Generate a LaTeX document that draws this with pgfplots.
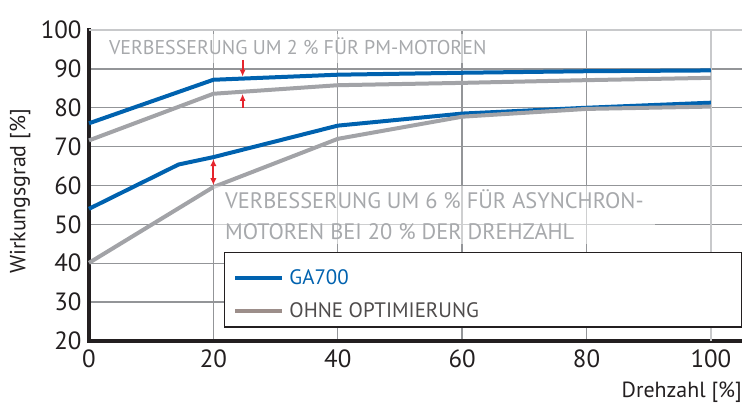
\documentclass[border=0pt]{standalone}
\usepackage{pgfplots}
\pgfplotsset{compat=1.18}
\usepackage{fontspec}
\setmainfont{PT Sans}
\usetikzlibrary{arrows.meta}
\definecolor{gablue}{HTML}{0062AF}
\definecolor{gagray}{HTML}{A2A3A7}
\definecolor{leggray}{HTML}{9C8E8A}
\definecolor{anngray}{HTML}{A7A9AC}
\definecolor{gridgray}{HTML}{939598}
\definecolor{lightgrid}{HTML}{C8C9CB}
\definecolor{textdark}{HTML}{231F20}
\definecolor{arrowred}{HTML}{E5252D}
\begin{document}
\begin{tikzpicture}
\path[use as bounding box] (-89bp,-62bp) rectangle (653bp,341bp);
\begin{axis}[
  at={(0,0)}, anchor=south west,
  scale only axis, width=653bp, height=311bp,
  xmin=0, xmax=105, ymin=20, ymax=100,
  axis x line*=bottom, axis y line*=left,
  axis line style={line width=4bp, color=textdark, line cap=rect},
  xtick={0,20,40,60,80}, extra x ticks={100},
  ytick={20,30,...,90}, extra y ticks={100},
  grid=major,
  major grid style={line width=1.3bp, color=gridgray},
  extra x tick style={major grid style={line width=1.3bp, color=lightgrid}},
  extra y tick style={major grid style={line width=1.3bp, color=lightgrid}},
  major tick length=0pt,
  /pgf/number format/assume math mode=true,
  tick label style={font=\fontsize{25}{25}\selectfont, color=textdark},
  xticklabel style={yshift=-5bp},
  yticklabel style={xshift=-4bp},
  ylabel={Wirkungsgrad [\%]},
  every axis y label/.style={at={(rel axis cs:0,0.5)}, xshift=-69bp, yshift=-6bp, rotate=90, anchor=center},
  ylabel style={font=\fontsize{22}{22}\selectfont, color=textdark},
  xlabel={Drehzahl [\%]},
  xlabel style={font=\fontsize{22}{22}\selectfont, color=textdark, at={(rel axis cs:1,0)}, anchor=north east, yshift=-41bp, inner sep=0pt},
  legend style={draw=none, fill=none, at={(axis cs:23.2,39.0)}, anchor=north west, inner sep=0pt, row sep=13bp,
    font=\fontsize{21}{21}\selectfont, cells={anchor=west}, nodes={inner xsep=5bp}},
  legend image code/.code={\draw[#1] (0bp,0bp) -- (47bp,0bp);},
  clip=false,
]
% legend box
\draw[fill=white, draw=textdark, line width=1.2bp] (axis cs:21.8,42.8) rectangle (axis cs:105,23.6);

\addlegendimage{gablue, line width=4bp}
\addlegendentry{\textcolor{gablue}{GA700}}
\addlegendimage{leggray, line width=4bp}
\addlegendentry{\textcolor{textdark!80}{OHNE OPTIMIERUNG}}

% PM motors
\addplot[gablue, line width=4bp, forget plot] coordinates {(0,76.0)(20,87.2)(40,88.5)(60,89.0)(80,89.4)(100,89.6)};
\addplot[gagray, line width=4bp, forget plot] coordinates {(0,71.6)(20,83.6)(40,85.8)(60,86.4)(80,87.1)(100,87.7)};
% asynchronous motors
\addplot[gablue, line width=4bp, forget plot] coordinates {(0,54.0)(14.4,65.4)(20,67.3)(40,75.4)(60,78.5)(80,80.0)(100,81.3)};
\addplot[gagray, line width=4bp, forget plot] coordinates {(0,40.1)(20,59.6)(40,72.0)(60,77.7)(80,79.7)(100,80.3)};

% annotations
\node[anchor=base west, fill=white, fill opacity=0.55, text opacity=1, text=anngray,
  inner xsep=8bp, inner ysep=3bp, text height=17bp, text depth=6bp,
  font=\fontsize{20}{24}\selectfont] at (axis cs:1.9,93.8) {VERBESSERUNG UM 2 \% FÜR PM-MOTOREN};
\node[anchor=north west, fill=white, fill opacity=0.55, text opacity=1, text=anngray, align=left,
  inner xsep=11bp, inner ysep=4bp,
  font=\fontsize{22.5}{31}\selectfont] at (axis cs:20.1,59.9) {VERBESSERUNG UM 6 \% FÜR ASYNCHRON-\\MOTOREN BEI 20 \% DER DREHZAHL};

% arrows
\draw[arrowred, line width=2bp, -{Latex[length=7bp,width=6bp]}] (axis cs:24.7,92.3) -- (axis cs:24.7,88.0);
\draw[arrowred, line width=2bp, -{Latex[length=7bp,width=6bp]}] (axis cs:24.7,80.0) -- (axis cs:24.7,83.6);
\draw[arrowred, line width=2bp, {Latex[length=7bp,width=6.5bp]}-{Latex[length=7bp,width=6.5bp]}] (axis cs:20,66.8) -- (axis cs:20,60.1);
\end{axis}
\end{tikzpicture}
\end{document}
